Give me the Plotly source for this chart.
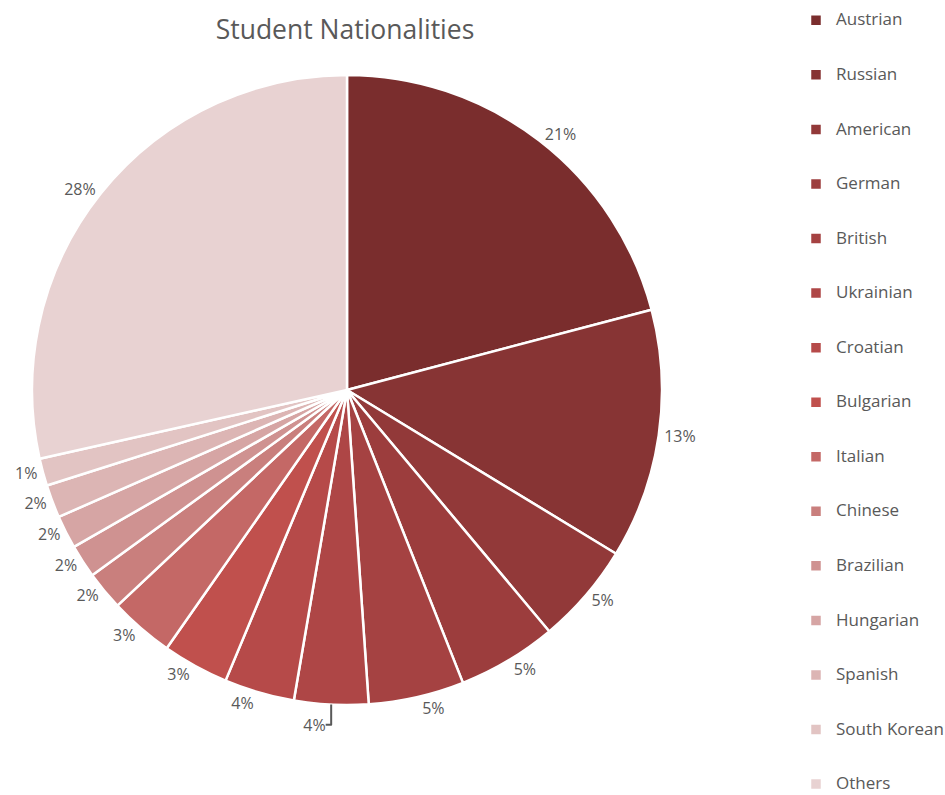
import plotly.graph_objects as go

nationalities = ["Austrian", "Russian", "American", "German", "British", "Ukrainian",
                 "Croatian", "Bulgarian", "Italian", "Chinese", "Brazilian", "Hungarian",
                 "Spanish", "South Korean", "Others"]
shares = [20.9, 12.8, 5.2, 5.1, 4.9, 3.8, 3.6, 3.4, 3.3, 2.0, 1.7, 1.7, 1.7, 1.4, 28.5]
colors = ["#7A2D2D", "#873434", "#923939", "#9C3D3D", "#A54242", "#AE4646", "#B64A49",
          "#C0504D", "#C46866", "#C97F7D", "#CF9291", "#D6A5A4", "#DCB5B4", "#E2C4C3",
          "#E8D2D2"]

W, H = 945, 795
legend_labels = ["<br><span style='font-size:17px'>%s</span><br> " % n for n in nationalities]

fig = go.Figure(go.Pie(
    labels=legend_labels,
    values=shares,
    customdata=nationalities,
    sort=False,
    direction="clockwise",
    rotation=0,
    marker=dict(colors=colors, line=dict(color="white", width=2.5)),
    textposition="outside",
    texttemplate="%{percent:.0%}",
    textfont=dict(family="Open Sans", size=16, color="#595959"),
    hovertemplate="%{customdata}: %{percent:.0%}<extra></extra>",
    domain=dict(x=[32 / W, 662 / W], y=[(H - 705) / H, (H - 75) / H]),
))

fig.update_layout(
    width=W, height=H,
    margin=dict(l=0, r=0, t=0, b=0, autoexpand=False),
    paper_bgcolor="white",
    title=dict(text="Student Nationalities", x=345 / W, xanchor="center",
               y=1 - 30 / H, yanchor="middle",
               font=dict(family="Open Sans", size=26.5, color="#595959")),
    legend=dict(x=796 / W, xanchor="left", y=1 + 12 / H, yanchor="top",
                font=dict(family="Open Sans", size=13.22, color="#595959"),
                maxheight=1000, bgcolor="rgba(0,0,0,0)"),
    showlegend=True,
)

fig.write_html("out.html", config={"displayModeBar": False},
               post_script="document.body.style.margin='0px';")
